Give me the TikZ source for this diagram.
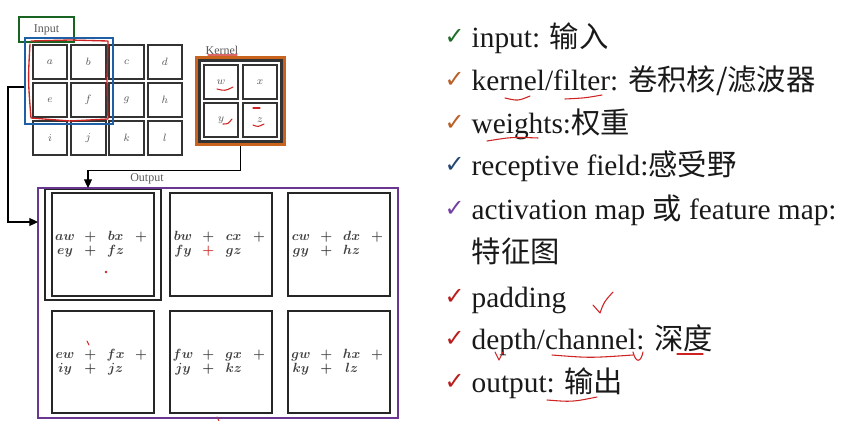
\documentclass[tikz,border=0pt]{standalone}
\usepackage{fontspec}
\setmainfont{Liberation Serif}
\newfontfamily\cjk{Noto Sans CJK SC}
\newfontfamily\symb{DejaVu Sans}
\usetikzlibrary{positioning,fit,arrows.meta}

\definecolor{inputgreen}{RGB}{25,100,35}
\definecolor{fieldblue}{RGB}{30,95,165}
\definecolor{kernorange}{RGB}{200,100,30}
\definecolor{mappurple}{RGB}{105,55,145}
\definecolor{penred}{RGB}{205,35,35}
\definecolor{tickgreen}{RGB}{30,110,40}
\definecolor{tickorange}{RGB}{185,95,40}
\definecolor{tickblue}{RGB}{35,70,115}
\definecolor{tickpurple}{RGB}{115,65,165}
\definecolor{tickred}{RGB}{185,30,30}

% one output entry: first line, second line
\newcommand{\convsum}[5][black!80]{%
  \makebox[19pt]{$#2$}\makebox[19pt]{$+$}\makebox[19pt]{$#3$}\makebox[19pt]{$+$}\\
  \makebox[19pt]{$#4$}\makebox[19pt]{\textcolor{#1}{$+$}}\makebox[19pt]{$#5$}\makebox[19pt]{}}

\tikzset{
  incell/.style={draw=black!80, line width=1.5pt, minimum width=26pt, minimum height=25pt,
    inner sep=0pt, font=\footnotesize, text=black!65},
  kcell/.style={draw=black!80, line width=1.5pt, minimum size=25.5pt, inner sep=0pt,
    font=\footnotesize, text=black!65},
  ocell/.style={draw=black!85, line width=1.6pt, minimum width=76.5pt, minimum height=77pt,
    inner sep=0pt, align=center, text=black!75, font=\fontsize{10}{10.5}\selectfont\boldmath},
  tag/.style={font=\small, text=black!65, inner sep=1pt},
  conn/.style={line width=0.8pt, -{Triangle[length=6.5pt,width=6pt]}},
  tick/.style={anchor=base west, font=\symb\fontsize{18}{18}\selectfont},
  item/.style={anchor=base west, font=\fontsize{22}{26}\selectfont, text=black!90},
  pen/.style={penred, line width=0.8pt, line cap=round, line join=round}
}

\begin{document}
\begin{tikzpicture}[x=0.75pt, y=-0.75pt]
  \useasboundingbox (0,0) rectangle (844,421);

  % input
  \node[draw=inputgreen, line width=1.6pt, minimum width=41pt, minimum height=18.5pt,
    tag] (inlabel) at (46.5,29.5) {Input};
  \foreach \name/\col/\row in {a/0/0, b/1/0, c/2/0, d/3/0,
                               e/0/1, f/1/1, g/2/1, h/3/1,
                               i/0/2, j/1/2, k/2/2, l/3/2}
    \node[incell] (\name) at (50+38.3*\col, 62+38*\row) {$\name$};
  \node[draw=fieldblue, line width=1.5pt, inner xsep=5pt, inner ysep=4.5pt, fit=(a) (f)] (recep) {};
  \draw[pen, line width=1pt] (30,44) .. controls (28,80) .. (31,118) -- (70,121) -- (108,119)
    -- (107,80) -- (108,41) -- (70,40) -- (31,41);

  % kernel
  \node[tag] (klabel) at (222,50) {Kernel};
  \node[kcell] (w) at (221,82) {$w$};
  \node[kcell] (x) at (260,82) {$x$};
  \node[kcell] (y) at (221,120) {$y$};
  \node[kcell] (z) at (260,120) {$z$};
  \node[draw=black!80, line width=1.8pt, inner sep=2.5pt, fit=(w) (z)] (kframe) {};
  \node[draw=kernorange, line width=2.4pt, inner sep=1.5pt, fit=(kframe)] (korange) {};

  % output
  \node[tag] (outlabel) at (147,178.5) {Output};
  \node[ocell] (o1) at (103,244.5) {\convsum{aw}{bx}{ey}{fz}};
  \node[ocell] (o2) at (221,244.5) {\convsum[penred]{bw}{cx}{fy}{gz}};
  \node[ocell] (o3) at (339,244.5) {\convsum{cw}{dx}{gy}{hz}};
  \node[ocell] (o4) at (103,362) {\convsum{ew}{fx}{iy}{jz}};
  \node[ocell] (o5) at (221,362) {\convsum{fw}{gx}{jy}{kz}};
  \node[ocell] (o6) at (339,362) {\convsum{gw}{hx}{ky}{lz}};
  \node[draw=black!85, line width=1.4pt, inner xsep=4.5pt, inner ysep=2.2pt, fit=(o1)] (o1frame) {};
  \node[draw=mappurple, line width=1.8pt, minimum width=270pt, minimum height=172.5pt,
    inner sep=0pt] (outbox) at (218,303) {};

  % connectors
  \coordinate (outin) at (88,188);
  \coordinate (inarr) at (38,222);
  \draw[conn] (korange.south) -- ++(0,24) -| (outin);
  \draw[conn] ([yshift=-4.5pt]recep.west) -- ++(-16,0) |- (inarr);

  % pen marks on the diagram
  \draw[pen, penred!70] (208,55) -- (237,55);
  \draw[pen] (217,89) .. controls (225,91) .. (233,87);
  \draw[pen] (223,124) .. controls (228,124) .. (232,119);
  \draw[pen] (253,108) -- (260,108);
  \draw[pen] (253,125) .. controls (258,127) .. (264,124);
  \fill[penred] (106,272) circle (1pt);
  \draw[pen] (87,341) -- (89,345);
  \draw[pen] (217,417) -- (219,421);

  % list
  \node[tick, text=tickgreen]  (t1) at (440,44)  {✓};
  \node[tick, text=tickorange] (t2) at (440,87)  {✓};
  \node[tick, text=tickorange] (t3) at (440,130) {✓};
  \node[tick, text=tickblue]   (t4) at (440,172) {✓};
  \node[tick, text=tickpurple] (t5) at (440,216) {✓};
  \node[tick, text=tickred]    (t7) at (440,304) {✓};
  \node[tick, text=tickred]    (t8) at (440,346) {✓};
  \node[tick, text=tickred]    (t9) at (440,389) {✓};

  \node[item] (l1) at (467,47)  {input: {\cjk 输入}};
  \node[item] (l2) at (467,90)  {kernel/filter: {\cjk 卷积核/滤波器}};
  \node[item] (l3) at (467,133) {weights:{\cjk 权重}};
  \node[item] (l4) at (467,175) {receptive field:{\cjk 感受野}};
  \node[item] (l5) at (467,219) {activation map {\cjk 或} feature map:};
  \node[item] (l6) at (467,262) {\cjk 特征图};
  \node[item] (l7) at (467,307) {padding};
  \node[item] (l8) at (467,349) {depth/channel: {\cjk 深度}};
  \node[item] (l9) at (467,392) {output: {\cjk 输出}};

  % pen marks on the list
  \draw[pen] (505,98) .. controls (518,101) .. (530,96);
  \draw[pen] (565,99) .. controls (585,98) .. (602,95);
  \draw[pen] (487,141) .. controls (512,137) .. (538,138);
  \draw[pen] (593,305) -- (600,313) .. controls (604,302) .. (613,292);
  \draw[pen] (495,352) -- (499,360) -- (503,352);
  \draw[pen] (552,355) .. controls (590,358) .. (633,355);
  \draw[pen] (633,352) .. controls (636,364) and (641,362) .. (643,352);
  \draw[pen] (677,354) -- (703,354);
  \draw[pen] (547,400) .. controls (572,402) .. (597,397);
\end{tikzpicture}
\end{document}
